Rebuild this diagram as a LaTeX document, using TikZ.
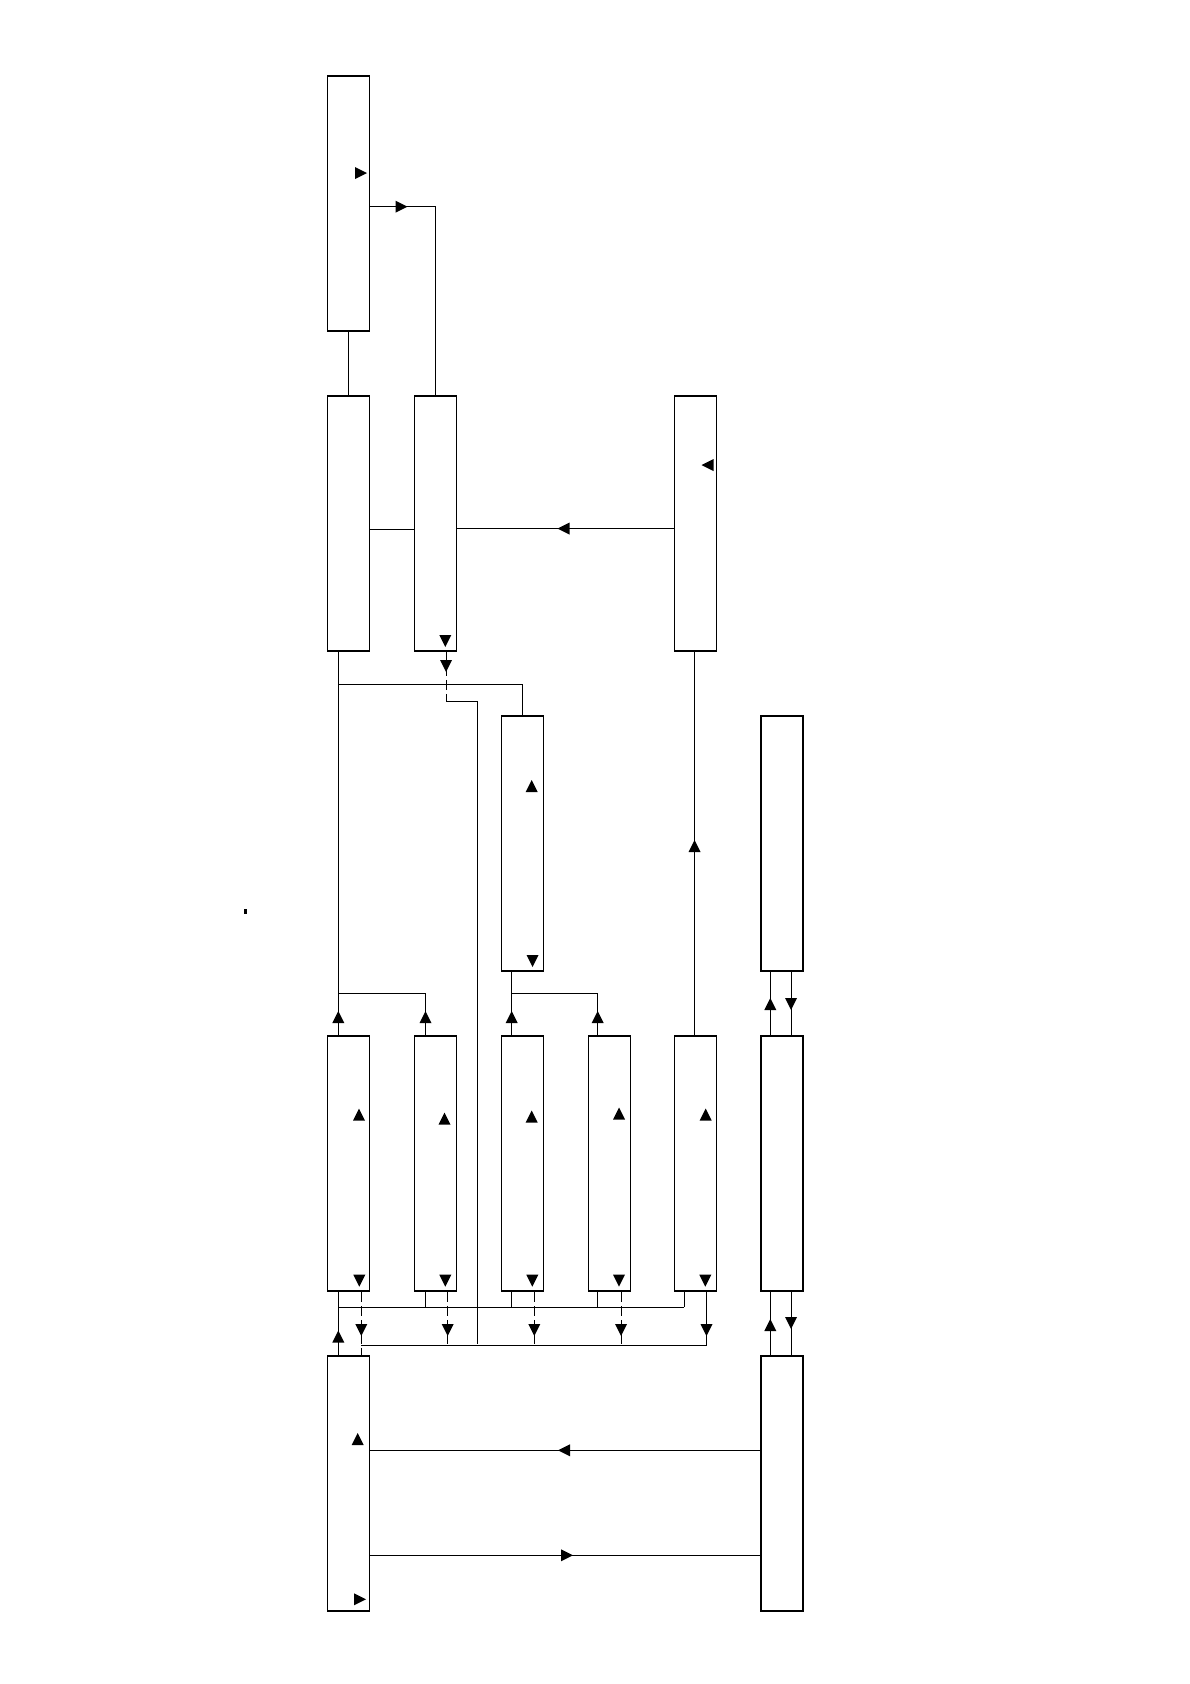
\documentclass[tikz,border=0pt]{standalone}
\usetikzlibrary{calc}
\tikzset{
  box/.style={draw, line width=1.6pt, minimum width=42pt, minimum height=255pt, inner sep=0pt},
  conn/.style={line width=0.85pt},
  dconn/.style={line width=0.85pt, dash pattern=on 10pt off 4pt},
  tup/.pic={\fill (-6,6) -- (0,-6) -- (6,6) -- cycle;},
  tdown/.pic={\fill (-6,-6) -- (0,6) -- (6,-6) -- cycle;},
  tright/.pic={\fill (-6,-6) -- (6,0) -- (-6,6) -- cycle;},
  tleft/.pic={\fill (6,-6) -- (-6,0) -- (6,6) -- cycle;},
}
\begin{document}
\begin{tikzpicture}[x=1pt,y=-1pt]
\useasboundingbox[fill=white] (0,0) rectangle (1190,1684);
% boxes
\node[box] (A) at (348.3,203.5) {};
\node[box] (B) at (348.3,523.5) {};
\node[box] (C) at (435.5,523.5) {};
\node[box] (D) at (695.4,523.5) {};
\node[box] (E) at (522.3,843.5) {};
\node[box] (F) at (781.8,843.5) {};
\node[box] (R1) at (348.3,1163.5) {};
\node[box] (R2) at (435.5,1163.5) {};
\node[box] (R3) at (522.3,1163.5) {};
\node[box] (R4) at (609.3,1163.5) {};
\node[box] (R5) at (695.4,1163.5) {};
\node[box] (G) at (781.8,1163.5) {};
\node[box] (H) at (348.3,1483.5) {};
\node[box] (I) at (781.8,1483.5) {};
% top connectors
\draw[conn] (A.south) -- (B.north);
\draw[conn] ($(A.east)+(0,3.2)$) -| (C.north);
\pic at (401.5,206.7) {tright};
\draw[conn] ($(B.east)+(0,5.5)$) -- ($(C.west)+(0,5.5)$);
\draw[conn] ($(D.west)+(0,5)$) -- ($(C.east)+(0,5)$);
\pic at (563.5,528.5) {tleft};
% B down to row 4
\draw[conn] ($(B.south)+(-10,0)$) -- ($(R1.north)+(-10,0)$);
\draw[conn] ($(B.south)+(-10,33)$) -| (E.north);
\draw[conn] ($(R1.north)+(-10,-42)$) -| ($(R2.north)+(-10,0)$);
\pic at (338.3,1017) {tup};
\pic at (425.5,1017) {tup};
% C dashed to long vertical
\coordinate (k1) at ($(C.south)+(10.5,50)$);
\coordinate (k2) at (477.3,1344.3);
\draw[dconn] ($(C.south)+(10.5,0)$) -- (k1);
\draw[conn] (k1) -- (k1 -| k2) -- (k2);
\pic at (446,666) {tdown};
% E down to row 4
\draw[conn] ($(E.south)+(-10.6,0)$) -- ($(R3.north)+(-10.6,0)$);
\draw[conn] ($(R3.north)+(-10.6,-42)$) -| ($(R4.north)+(-11.6,0)$);
\pic at (511.7,1017) {tup};
\pic at (597.7,1017) {tup};
% R5 up to D
\draw[conn] ($(R5.north)+(-0.9,0)$) -- ($(D.south)+(-0.9,0)$);
\pic at (694.5,846) {tup};
% F - G - I
\draw[conn] ($(G.north)+(-11.5,0)$) -- ($(F.south)+(-11.5,0)$);
\draw[conn] ($(F.south)+(9.3,0)$) -- ($(G.north)+(9.3,0)$);
\pic at (770.3,1004) {tup};
\pic at (791.1,1004) {tdown};
\draw[conn] ($(I.north)+(-11.5,0)$) -- ($(G.south)+(-11.5,0)$);
\draw[conn] ($(G.south)+(9.3,0)$) -- ($(I.north)+(9.3,0)$);
\pic at (770.3,1325) {tup};
\pic at (791.1,1323) {tdown};
% row 4 lower buses
\draw[conn] ($(R1.south)+(-10,0)$) -- ($(H.north)+(-10,0)$);
\pic at (338.3,1336.5) {tup};
\draw[conn] ($(R2.south)+(-9.8,0)$) -- ++(0,15.3);
\draw[conn] ($(R3.south)+(-10.6,0)$) -- ++(0,15.3);
\draw[conn] ($(R4.south)+(-11.6,0)$) -- ++(0,15.3);
\draw[conn] ($(R5.south)+(-11.1,0)$) -- ++(0,15.3);
\draw[conn] ($(R1.south)+(-10,15.3)$) -- ($(R5.south)+(-11.1,15.3)$);
\draw[dconn] ($(R1.south)+(13,0)$) -- ($(H.north)+(13,0)$);
\draw[dconn] ($(R2.south)+(12.2,0)$) -- ++(0,53.3);
\draw[dconn] ($(R3.south)+(12,0)$) -- ++(0,53.3);
\draw[dconn] ($(R4.south)+(11.8,0)$) -- ++(0,53.3);
\draw[conn] ($(R5.south)+(11.1,0)$) -- ++(0,53.3);
\draw[conn] ($(R1.south)+(13,53.3)$) -- ($(R5.south)+(11.1,53.3)$);
\pic at (361.3,1330) {tdown};
\pic at (447.7,1330) {tdown};
\pic at (534.3,1330) {tdown};
\pic at (621.1,1330) {tdown};
\pic at (706.5,1330) {tdown};
% row 5
\draw[conn] ($(I.west)+(0,-33.2)$) -- ($(H.east)+(0,-33.2)$);
\pic at (564,1450.3) {tleft};
\draw[conn] ($(H.east)+(0,71.8)$) -- ($(I.west)+(0,71.8)$);
\pic at (567,1555.3) {tright};
% markers inside boxes
\pic at (361,173) {tright};
\pic at (445.3,641) {tdown};
\pic at (707.5,465) {tleft};
\pic at (531.7,786) {tup};
\pic at (532.5,961) {tdown};
\pic at (359,1114.5) {tup};
\pic at (444.5,1118.5) {tup};
\pic at (531.7,1116.5) {tup};
\pic at (619,1113.5) {tup};
\pic at (705.7,1114.5) {tup};
\pic at (359.3,1280.7) {tdown};
\pic at (445.3,1280.7) {tdown};
\pic at (532.3,1280.7) {tdown};
\pic at (619,1280.7) {tdown};
\pic at (705.3,1280.7) {tdown};
\pic at (357.7,1439) {tup};
\pic at (360,1599.3) {tright};
% small mark
\fill (244,909) rectangle (246.5,914);
\end{tikzpicture}
\end{document}
